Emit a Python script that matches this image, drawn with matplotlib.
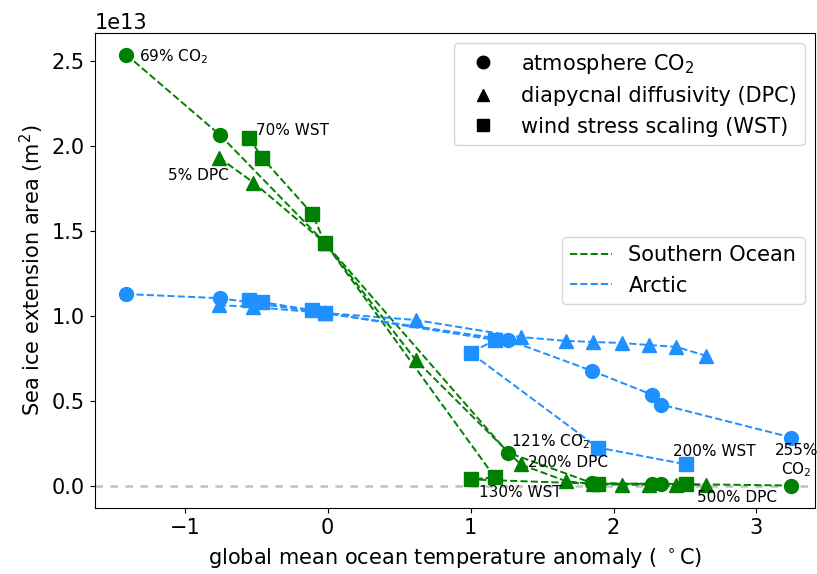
import matplotlib
matplotlib.use("Agg")
import matplotlib.pyplot as plt
from matplotlib.lines import Line2D
import numpy as np

# global mean ocean temperature anomaly (deg C) per experiment
co2_x = [-1.41, -0.755, -0.02, 1.26, 1.85, 2.27, 2.335, 3.245]
dpc_x = [-0.76, -0.52, -0.02, 0.615, 1.35, 1.67, 1.855, 2.056, 2.25, 2.44, 2.65]
wst_x = [-0.55, -0.46, -0.11, -0.02, 1.17, 1.0, 1.89, 2.51]

# sea ice extension area (units of 1e13 m^2)
so_co2 = [2.535, 2.064, 1.43, 0.199, 0.02, 0.015, 0.015, 0.005]
so_dpc = [1.93, 1.784, 1.43, 0.743, 0.129, 0.03, 0.015, 0.01, 0.01, 0.01, 0.01]
so_wst = [2.047, 1.93, 1.602, 1.43, 0.053, 0.041, 0.015, 0.015]

arc_co2 = [1.129, 1.105, 1.018, 0.86, 0.678, 0.538, 0.48, 0.287]
arc_dpc = [1.064, 1.053, 1.018, 0.977, 0.877, 0.854, 0.848, 0.842, 0.83, 0.819, 0.766]
arc_wst = [1.094, 1.082, 1.035, 1.018, 0.86, 0.784, 0.228, 0.129]

SCALE = 1e13
GREEN = "green"
BLUE = "dodgerblue"

plt.rcParams["font.size"] = 15

fig, ax = plt.subplots(figsize=(8.17, 5.74), dpi=100)
fig.subplots_adjust(left=0.116, right=0.9976, bottom=0.115, top=0.9425)

ax.axhline(0, color="silver", ls=(0, (3, 3)), lw=1.8, zorder=0)

series = [
    (co2_x, so_co2, arc_co2, "o"),
    (dpc_x, so_dpc, arc_dpc, "^"),
    (wst_x, so_wst, arc_wst, "s"),
]
for x, so, arc, mk in series:
    ax.plot(x, np.array(so) * SCALE, ls="--", lw=1.4, marker=mk, ms=10, color=GREEN)
    ax.plot(x, np.array(arc) * SCALE, ls="--", lw=1.4, marker=mk, ms=10, color=BLUE)

# labels next to the end-member experiments: (text, x, y, offset in points, ha)
notes = [
    ("69% CO$_2$", co2_x[0], so_co2[0], (9, -1.5), "left"),
    ("70% WST", wst_x[0], so_wst[0], (5, 5), "left"),
    ("5% DPC", dpc_x[0], so_dpc[0], (7, -13), "right"),
    ("121% CO$_2$", co2_x[3], so_co2[3], (2, 7.5), "left"),
    ("200% DPC", dpc_x[4], so_dpc[4], (5.5, 1.5), "left"),
    ("130% WST", wst_x[5], so_wst[5], (6, -9.5), "left"),
    ("200% WST", wst_x[7], arc_wst[7], (-10, 9.5), "left"),
    ("255%\nCO$_2$", co2_x[7], arc_co2[7], (3.5, -17), "center"),
    ("500% DPC", dpc_x[10], so_dpc[10], (-7, -9), "left"),
]
for text, x, y, off, ha in notes:
    ax.annotate(text, xy=(x, y * SCALE), xytext=off, textcoords="offset points",
                ha=ha, va="center", fontsize=11, multialignment="center")

ax.set_xlim(-1.63, 3.41)
ax.set_xlabel("global mean ocean temperature anomaly ( $^\\circ$C)", labelpad=6)
ax.set_ylabel("Sea ice extension area (m$^2$)")

marker_handles = [
    Line2D([], [], ls="none", marker="o", ms=9, color="black"),
    Line2D([], [], ls="none", marker="^", ms=9, color="black"),
    Line2D([], [], ls="none", marker="s", ms=9, color="black"),
]
leg1 = ax.legend(marker_handles,
                 ["atmosphere CO$_2$", "diapycnal diffusivity (DPC)", "wind stress scaling (WST)"],
                 loc="upper right")
ax.add_artist(leg1)

line_handles = [
    Line2D([], [], ls="--", lw=1.4, color=GREEN),
    Line2D([], [], ls="--", lw=1.4, color=BLUE),
]
ax.legend(line_handles, ["Southern Ocean", "Arctic"], loc="center right")

fig.savefig("out.png", dpi=100)
